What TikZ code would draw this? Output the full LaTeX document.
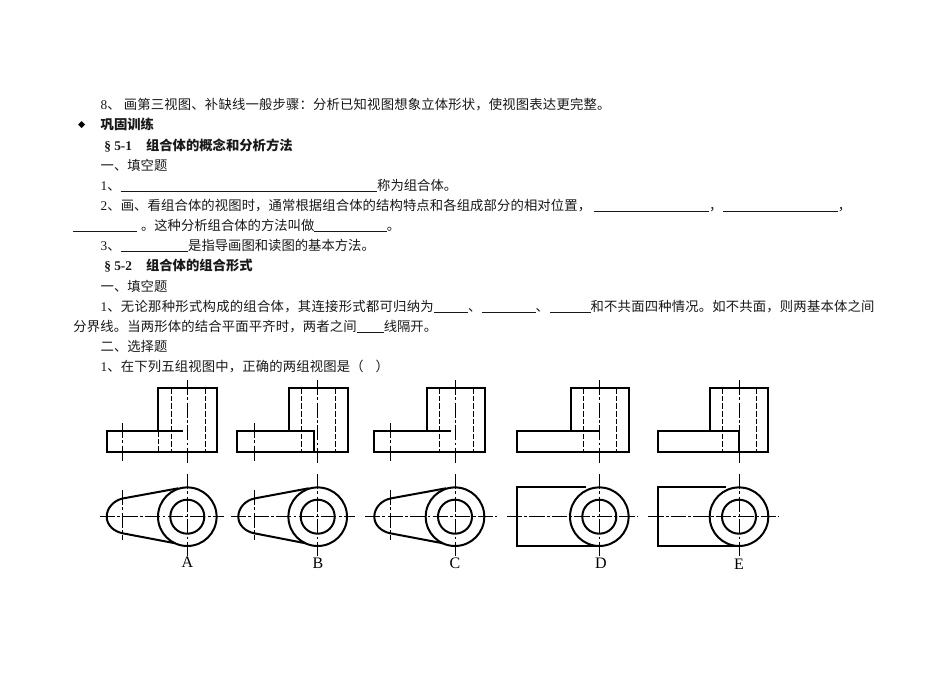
\documentclass[tikz,border=0pt]{standalone}
\usepackage{fontspec}
\setmainfont{Liberation Serif}
\newfontfamily\cjk{Noto Sans CJK SC}
\newfontfamily\sym{DejaVu Sans}
\newfontfamily\lab{Liberation Serif}
\newdimen\upx \upx=0.75pt
\newcommand{\blank}[1]{\rule[-0.9pt]{#1\upx}{0.65pt}}
\newcommand{\spaced}[1]{\addfontfeature{LetterSpace=#1}}
% x-left, x-right, x-tower, x-axis, hidden 1, hidden 2 : outline of the upper view
\newcommand{\upperview}[6]{%
  \draw[heavy] (#3,431) -- (#3,388.3) -- (#2,388.3) -- (#2,451.7) -- (#1,451.7) -- (#1,431) -- (#3,431);
  \draw[hid] (#5,388.3) -- (#5,451.7);
  \draw[hid] (#6,388.3) -- (#6,451.7);
  \draw[axis] (#4,380) -- (#4,463);
}
% x-axis, left end and right end of the horizontal axis : rings of the lower view
\newcommand{\rings}[3]{%
  \draw[heavy] (#1,516.7) circle[radius=29.3];
  \draw[heavy] (#1,516.7) circle[radius=17];
  \draw[axis] (#2,516.7) -- (#3,516.7);
  \draw[axis] (#1,474) -- (#1,556);
}
% x-axis, x-small axis : the tapered lug
\newcommand{\lug}[2]{%
  \draw[heavy] (#1-9,488.3) -- (#2,498.5) .. controls (#2-9,500.5) and (#2-16,508) .. (#2-16,516.7)
     .. controls (#2-16,525) and (#2-9,531.5) .. (#2,533.3) -- (#1-12,543.3);
  \draw[axis] (#2,490) -- (#2,540);
  \draw[axis] (#2,423) -- (#2,462);
}
% x-left, x-axis : the square lug
\newcommand{\block}[2]{%
  \draw[heavy] (#2-13,487.3) -- (#1,487.3) -- (#1,545.7) -- (#2,545.7);
}
\tikzset{
  txt/.style={anchor=base west,inner sep=0pt,outer sep=0pt,font=\fontsize{10pt}{12pt}\selectfont\cjk,text=black!90},
  bld/.style={txt,font=\fontsize{10pt}{12pt}\selectfont\cjk\bfseries},
  heavy/.style={line width=1.5pt,black,line join=miter},
  hid/.style={line width=0.75pt,black,dash pattern=on 4.2pt off 1.5pt},
  axis/.style={line width=0.75pt,black,dash pattern=on 11.5pt off 1.6pt on 2.2pt off 1.6pt},
  lett/.style={inner sep=0pt,font=\fontsize{12pt}{12pt}\selectfont\lab}
}
\begin{document}
\begin{tikzpicture}[x=0.75pt,y=-0.75pt]
\useasboundingbox (0,0) rectangle (950,673);
\fill[white] (0,0) rectangle (950,673);
\node[txt] (l1) at (100.7,110) {\spaced{1.4}{\rmfamily 8}、 画第三视图、补缺线一般步骤：分析已知视图想象立体形状，使视图表达更完整。};
\node[anchor=center,inner sep=0pt,font=\fontsize{7pt}{8pt}\selectfont\sym] (bullet) at (81.7,125) {◆};
\node[bld] (l2) at (100.7,130) {巩固训练};
\node[txt,font=\fontsize{10pt}{12pt}\selectfont\rmfamily\bfseries] (l3a) at (104.3,151) {§ 5-1};
\node[bld] (l3) at (146,151) {组合体的概念和分析方法};
\node[txt] (l4) at (100.7,171) {一、填空题};
\node[txt] (l5) at (100.7,191) {{\rmfamily 1}、\blank{256.5}称为组合体。};
\node[txt] (l6) at (100.7,211) {\spaced{0.8}{\rmfamily 2}、画、看组合体的视图时，通常根据组合体的结构特点和各组成部分的相对位置，};
\node[txt] (l6b) at (594,211) {\blank{115}，};
\node[txt] (l6c) at (723.3,211) {\blank{114.5}，};
\node[txt] (l7) at (73.3,231) {\blank{64}};
\node[txt] (l7b) at (141,231) {。这种分析组合体的方法叫做\blank{72.5}。};
\node[txt] (l8) at (100.7,251) {{\rmfamily 3}、\blank{67.5}是指导画图和读图的基本方法。};
\node[txt,font=\fontsize{10pt}{12pt}\selectfont\rmfamily\bfseries] (l9a) at (104.3,271) {§ 5-2};
\node[bld] (l9) at (146,271) {组合体的组合形式};
\node[txt] (l10) at (100.7,292) {一、填空题};
\node[txt] (l11) at (100.7,312) {\spaced{2.1}{\rmfamily 1}、无论那种形式构成的组合体，其连接形式都可归纳为\spaced{0}\blank{34.3}、};
\node[txt] (l11b) at (481.7,312) {\blank{54}、};
\node[txt] (l11c) at (550,312) {\blank{40.7}\spaced{1.4}和不共面四种情况。如不共面，则两基本体之间};
\node[txt] (l12) at (73.3,332) {\spaced{1.3}分界线。当两形体的结合平面平齐时，两者之间\spaced{0}\blank{27}线隔开。};
\node[txt] (l13) at (100.7,352) {二、选择题};
\node[txt] (l14) at (100.7,372) {\spaced{1.25}{\rmfamily 1}、在下列五组视图中，正确的两组视图是（\hspace{9pt}）};

% A
\upperview{106.7}{217}{158.3}{187.3}{171}{205}
\draw[heavy] (158.3,431) -- (182.7,431);
\draw[hid] (158.3,431) -- (158.3,451.7);
\rings{187.3}{100}{224}
\lug{187.3}{122.7}
\node[lett] (la) at (187.5,562) {A};
% B
\upperview{236.7}{348.3}{289.3}{317.7}{301.7}{335.3}
\draw[heavy] (289.3,431) -- (313.7,431) -- (313.7,451.7);
\rings{317.7}{231}{355}
\lug{317.7}{254.3}
\node[lett] (lb) at (318,563) {B};
% C
\upperview{374.3}{485.3}{426.7}{455}{439}{473}
\draw[heavy] (426.7,431) -- (451,431);
\rings{455}{365}{497.3}
\lug{455}{390.3}
\node[lett] (lc) at (455,563.5) {C};
% D
\upperview{517.3}{629.3}{571}{599.3}{583}{616}
\draw[heavy] (571,431) -- (599.3,431);
\rings{599.3}{506.7}{637}
\block{517.3}{599.3}
\node[lett] (ld) at (601,563.5) {D};
% E
\upperview{657.7}{768.3}{710}{739}{722.3}{756.3}
\draw[heavy] (710,431) -- (739,431) -- (739,451.7);
\rings{739}{648.3}{779}
\block{657.7}{739}
\node[lett] (le) at (739,564) {E};
\end{tikzpicture}
\end{document}
